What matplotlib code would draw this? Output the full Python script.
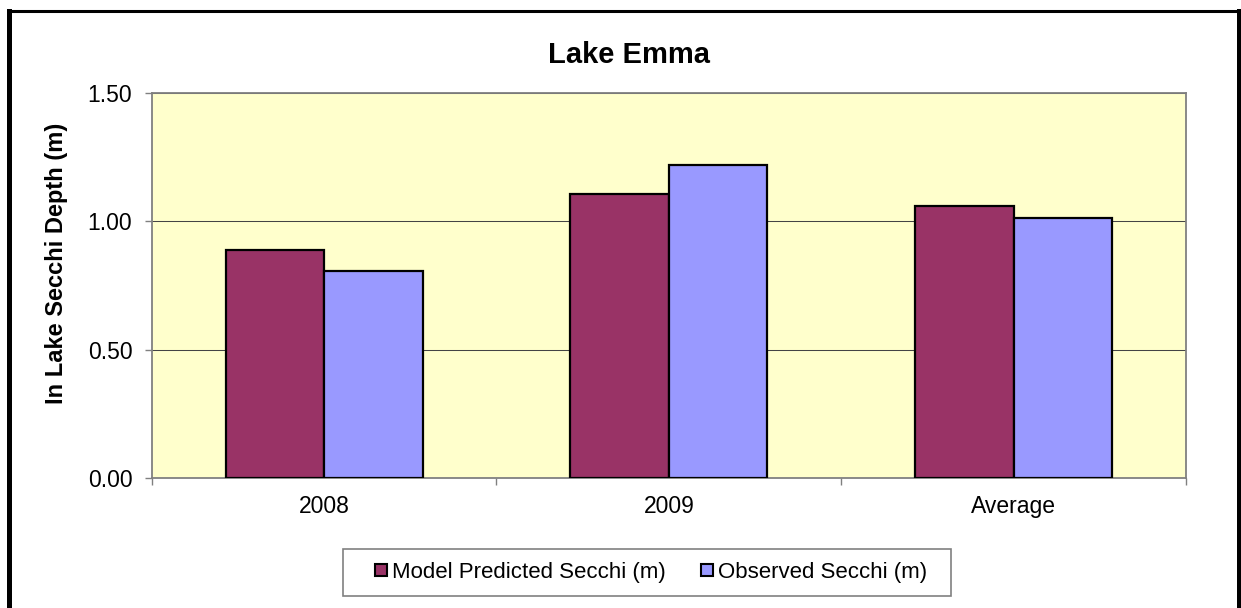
import matplotlib
matplotlib.use("Agg")
import matplotlib.pyplot as plt
import numpy as np
from matplotlib.lines import Line2D
from matplotlib.patches import Rectangle

plt.rcParams['font.family'] = ['Liberation Sans', 'DejaVu Sans']

categories = ["2008", "2009", "Average"]
model_predicted = [0.888, 1.107, 1.060]
observed = [0.808, 1.220, 1.014]
series_names = ["Model Predicted Secchi (m)", "Observed Secchi (m)"]
yticks = [0.0, 0.5, 1.0, 1.5]
ytick_labels = ["0.00", "0.50", "1.00", "1.50"]

W, H = 1241, 608
fig = plt.figure(figsize=(W / 100, H / 100), dpi=100)
ax = fig.add_axes([151.7 / W, 1 - 478.3 / H, (1186 - 151.7) / W, (478.3 - 92.7) / H])
ax.set_facecolor('#FFFFCC')

x = np.arange(len(categories))
bw = 1 / 3.5
ax.bar(x - bw / 2, model_predicted, bw, color='#993366', edgecolor='black', linewidth=1.6,
       label=series_names[0], zorder=3)
ax.bar(x + bw / 2, observed, bw, color='#9999FF', edgecolor='black', linewidth=1.6,
       label=series_names[1], zorder=3)

ax.set_xlim(-0.5, len(categories) - 0.5)
ax.set_ylim(0, 1.5)
ax.set_yticks(yticks)
ax.set_yticklabels(ytick_labels)
for yv in yticks[1:]:
    ax.axhline(yv, color='#444444', lw=0.75, zorder=1)

ax.set_xticks(np.arange(len(categories) + 1) - 0.5)
ax.set_xticklabels([])
ax.set_xticks(x, minor=True)
ax.set_xticklabels(categories, minor=True)
ax.tick_params(axis='x', which='major', length=5, width=1, color='#808080', direction='out')
ax.tick_params(axis='x', which='minor', length=0, pad=12, labelsize=16.5)
ax.tick_params(axis='y', which='major', length=5, width=1, color='#808080', direction='out',
               pad=9, labelsize=16.5)
for s in ax.spines.values():
    s.set_color('#808080')
    s.set_linewidth(1.3)

fig.text(629 / W, 1 - 63.3 / H, "Lake Emma", ha='center', va='baseline',
         fontsize=21, fontweight='bold')
fig.text(57 / W, 1 - 263.5 / H, "In Lake Secchi Depth (m)", ha='center', va='center',
         rotation=90, fontsize=17, fontweight='bold')

# legend frame
fig.add_artist(Rectangle((342.7 / W, 1 - 595.7 / H), (951 - 342.7) / W, (595.7 - 549) / H,
                         transform=fig.transFigure, facecolor='white', edgecolor='#808080',
                         linewidth=1.2, zorder=1))
handles = [
    Line2D([], [], marker='s', linestyle='none', markersize=8, markerfacecolor='#993366',
           markeredgecolor='black', markeredgewidth=1.5),
    Line2D([], [], marker='s', linestyle='none', markersize=8, markerfacecolor='#9999FF',
           markeredgecolor='black', markeredgewidth=1.5),
]
leg = fig.legend(handles, series_names, loc='center', ncol=2,
                 bbox_to_anchor=(651 / W, 1 - 572.4 / H), fontsize=16,
                 frameon=False, handlelength=0.55, handletextpad=0.2,
                 columnspacing=1.6, borderpad=0.3, borderaxespad=0)
leg.set_zorder(2)

# figure border
fig.add_artist(Line2D([8.5 / W, 8.5 / W], [1 - 10.7 / H, -0.05], color='black', lw=3.6,
                      transform=fig.transFigure, solid_capstyle='projecting'))
fig.add_artist(Line2D([1238.5 / W, 1238.5 / W], [1 - 10.7 / H, -0.05], color='black', lw=3.6,
                      transform=fig.transFigure, solid_capstyle='projecting'))
fig.add_artist(Line2D([8.5 / W, 1238.5 / W], [1 - 10.7 / H, 1 - 10.7 / H], color='black', lw=2.2,
                      transform=fig.transFigure, solid_capstyle='projecting'))

fig.savefig("out.png", dpi=100)
